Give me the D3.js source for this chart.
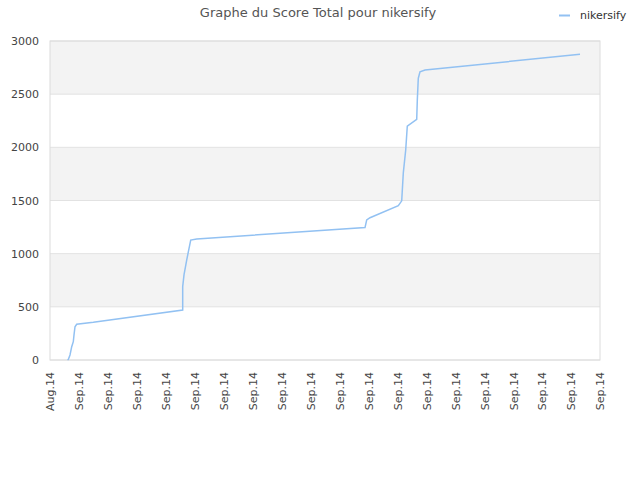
<!DOCTYPE html>
<html>
<head>
<meta charset="utf-8">
<script src="https://cdn.jsdelivr.net/npm/d3@7"></script>
<style>
  body { margin: 0; background: #fff; }
  text { font-family: "DejaVu Sans", sans-serif; }
</style>
</head>
<body>
<svg id="chart"></svg>
<script>
// tick labels along the x axis (one per tick)
const xLabels = ["Aug.14", "Sep.14", "Sep.14", "Sep.14", "Sep.14", "Sep.14", "Sep.14",
  "Sep.14", "Sep.14", "Sep.14", "Sep.14", "Sep.14", "Sep.14", "Sep.14", "Sep.14",
  "Sep.14", "Sep.14", "Sep.14", "Sep.14", "Sep.14"];
const yTicks = [0, 500, 1000, 1500, 2000, 2500, 3000];

// score series, x in tick units
const scoreX = [0.605, 0.632, 0.691, 0.750, 0.805, 0.829, 0.864, 0.922, 1.496,
  4.584, 4.584, 4.629, 4.722, 4.861, 5.068, 10.882, 10.941, 11.055, 12.033,
  12.150, 12.205, 12.288, 12.343, 12.668, 12.689, 12.723, 12.782, 12.955, 18.31];
const scoreY = [0, 5, 47, 125, 172, 235, 313, 336, 354,
  470, 690, 800, 940, 1128, 1138, 1245, 1317, 1338, 1452,
  1497, 1760, 1975, 2200, 2263, 2445, 2650, 2711, 2727, 2875];

const data = scoreX.map((x, i) => ({ x: x, y: scoreY[i] }));

const margin = { top: 41, bottom: 120, left: 50, right: 40 };
const width = 640 - margin.left - margin.right;
const height = 480 - margin.top - margin.bottom;

const svg = d3.select("#chart")
  .attr("width", 640)
  .attr("height", 480);

const g = svg.append("g")
  .attr("transform", `translate(${margin.left},${margin.top})`);

const xscale = d3.scaleLinear().domain([0, xLabels.length - 1]).range([0, width]);
const yscale = d3.scaleLinear().domain([0, 3000]).range([height, 0]);

// alternating bands
for (let i = 0; i < yTicks.length - 1; i++) {
  g.append("rect")
    .attr("x", 0)
    .attr("y", yscale(yTicks[i + 1]))
    .attr("width", width)
    .attr("height", yscale(yTicks[i]) - yscale(yTicks[i + 1]))
    .attr("fill", i % 2 === 1 ? "#f3f3f3" : "#ffffff");
}

// grid lines
g.selectAll(".grid").data(yTicks).join("line")
  .attr("x1", 0).attr("x2", width)
  .attr("y1", d => yscale(d)).attr("y2", d => yscale(d))
  .attr("stroke", "#e2e2e2");

// frame
g.append("rect")
  .attr("x", 0).attr("y", 0)
  .attr("width", width).attr("height", height)
  .attr("fill", "none")
  .attr("stroke", "#dcdcdc");

// y axis
const yaxis = d3.axisLeft(yscale).tickValues(yTicks).tickFormat(d3.format("d"))
  .tickSize(0).tickPadding(11);
g.append("g").call(yaxis)
  .call(s => s.select(".domain").remove())
  .selectAll("text")
  .attr("fill", "#444")
  .style("font-size", "11px");

// x axis
const xaxis = d3.axisBottom(xscale)
  .tickValues(d3.range(xLabels.length))
  .tickFormat(i => xLabels[i])
  .tickSize(0);
g.append("g")
  .attr("transform", `translate(0,${height})`)
  .call(xaxis)
  .call(s => s.select(".domain").remove())
  .selectAll("text")
  .attr("fill", "#444")
  .style("font-size", "11px")
  .attr("text-anchor", "end")
  .attr("transform", "rotate(-90)")
  .attr("x", -12)
  .attr("y", 0)
  .attr("dy", "0.35em");

// line
const line = d3.line().x(d => xscale(d.x)).y(d => yscale(d.y));
g.append("path")
  .datum(data)
  .attr("d", line)
  .attr("fill", "none")
  .attr("stroke", "#92c1f2")
  .attr("stroke-width", 1.5);

// title
svg.append("text")
  .attr("x", 318).attr("y", 17)
  .attr("text-anchor", "middle")
  .attr("fill", "#555")
  .style("font-size", "13px")
  .text("Graphe du Score Total pour nikersify");

// legend
svg.append("line")
  .attr("x1", 559).attr("x2", 570)
  .attr("y1", 15.5).attr("y2", 15.5)
  .attr("stroke", "#92c1f2")
  .attr("stroke-width", 2);
svg.append("text")
  .attr("x", 580).attr("y", 19)
  .attr("fill", "#333")
  .style("font-size", "11px")
  .text("nikersify");
</script>
</body>
</html>
